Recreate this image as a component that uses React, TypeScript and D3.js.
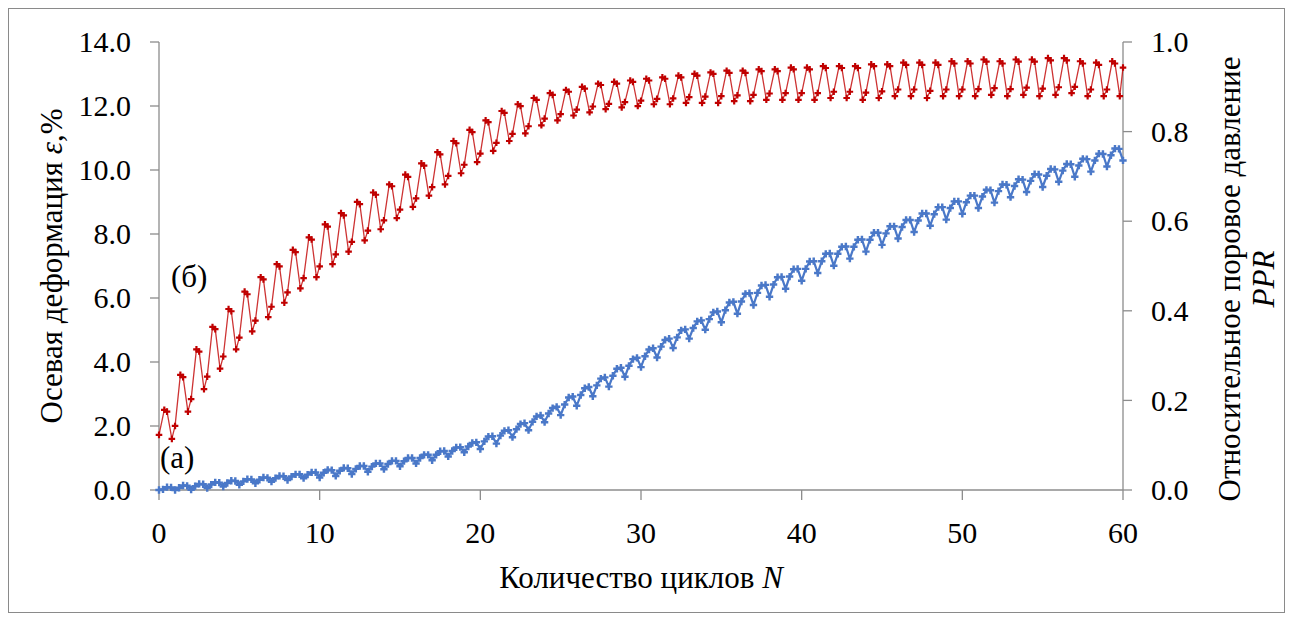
import React from "react";
import * as d3 from "d3";

// Cycle numbers 0..59 (one entry per loading cycle)
// Red series (б): pore pressure ratio PPR (right axis)
const redPhases = [0, 0.33, 0.5, 0.8];
const redStart = [0.123,0.143,0.203,0.253,0.298,0.340,0.378,0.409,0.441,0.473,0.499,0.526,0.554,0.579,0.602,0.626,0.651,0.676,0.701,0.726,0.751,0.775,0.795,0.812,0.829,0.839,0.849,0.856,0.862,0.866,0.869,0.873,0.874,0.877,0.878,0.879,0.881,0.882,0.885,0.886,0.886,0.886,0.889,0.889,0.887,0.890,0.894,0.894,0.891,0.894,0.894,0.895,0.897,0.895,0.898,0.896,0.899,0.900,0.894,0.894];
const redPeak = [0.179,0.257,0.314,0.364,0.404,0.443,0.475,0.504,0.536,0.564,0.593,0.618,0.643,0.664,0.682,0.704,0.729,0.754,0.779,0.804,0.825,0.846,0.861,0.875,0.886,0.893,0.900,0.907,0.911,0.914,0.918,0.921,0.925,0.929,0.932,0.936,0.936,0.939,0.939,0.943,0.943,0.946,0.946,0.946,0.950,0.950,0.954,0.954,0.954,0.957,0.957,0.961,0.957,0.961,0.961,0.964,0.964,0.957,0.954,0.957];
const redFall = [0.175,0.252,0.309,0.359,0.399,0.437,0.470,0.499,0.531,0.559,0.588,0.613,0.638,0.659,0.678,0.699,0.724,0.749,0.774,0.799,0.821,0.842,0.857,0.871,0.882,0.889,0.896,0.904,0.907,0.911,0.914,0.918,0.921,0.925,0.929,0.931,0.931,0.935,0.935,0.939,0.939,0.942,0.942,0.942,0.946,0.946,0.949,0.949,0.949,0.952,0.952,0.956,0.952,0.956,0.956,0.959,0.959,0.952,0.949,0.952];
const redLow = [0.114,0.175,0.225,0.271,0.314,0.354,0.386,0.418,0.450,0.475,0.504,0.532,0.557,0.582,0.607,0.632,0.657,0.682,0.707,0.732,0.757,0.779,0.796,0.814,0.825,0.836,0.843,0.850,0.854,0.857,0.861,0.861,0.864,0.864,0.864,0.868,0.868,0.871,0.871,0.871,0.871,0.875,0.875,0.871,0.875,0.879,0.879,0.875,0.879,0.879,0.879,0.882,0.879,0.882,0.879,0.882,0.886,0.879,0.879,0.879];
const redEnd = 0.943;

// Blue series (а): axial strain, % (left axis)
const bluePhases = [0, 0.25, 0.5, 0.75];
const blueDip = [0.0,0.0,0.01,0.06,0.11,0.16,0.21,0.26,0.31,0.37,0.39,0.44,0.5,0.57,0.65,0.74,0.83,0.93,1.05,1.18,1.28,1.45,1.65,1.87,2.12,2.34,2.63,2.93,3.23,3.54,3.84,4.14,4.44,4.73,5.01,5.24,5.51,5.78,6.04,6.29,6.54,6.78,7.01,7.23,7.45,7.66,7.86,8.06,8.26,8.45,8.63,8.81,8.98,9.15,9.31,9.47,9.63,9.79,9.95,10.11];
const blueRise = [0.02,0.07,0.12,0.17,0.22,0.27,0.32,0.37,0.42,0.48,0.54,0.6,0.66,0.73,0.81,0.9,1.0,1.1,1.22,1.36,1.52,1.7,1.9,2.13,2.39,2.67,2.97,3.27,3.57,3.88,4.18,4.48,4.77,5.06,5.34,5.62,5.89,6.16,6.42,6.67,6.91,7.15,7.38,7.6,7.82,8.02,8.22,8.42,8.62,8.81,8.99,9.17,9.34,9.5,9.66,9.82,9.98,10.14,10.3,10.46];
const bluePeak = [0.09,0.14,0.19,0.24,0.29,0.34,0.39,0.44,0.49,0.55,0.63,0.69,0.75,0.83,0.91,1.0,1.1,1.21,1.33,1.47,1.67,1.85,2.06,2.3,2.56,2.89,3.18,3.48,3.79,4.09,4.39,4.69,4.99,5.27,5.55,5.86,6.13,6.39,6.65,6.9,7.14,7.38,7.6,7.82,8.04,8.24,8.44,8.64,8.84,9.02,9.2,9.38,9.55,9.71,9.87,10.03,10.19,10.35,10.51,10.67];
const blueShoulder = [0.08,0.13,0.18,0.23,0.28,0.33,0.38,0.43,0.49,0.55,0.62,0.68,0.75,0.83,0.91,1.0,1.1,1.22,1.34,1.49,1.68,1.87,2.09,2.33,2.6,2.92,3.22,3.52,3.82,4.13,4.43,4.73,5.02,5.3,5.58,5.88,6.15,6.41,6.66,6.91,7.15,7.39,7.61,7.83,8.04,8.24,8.44,8.64,8.84,9.02,9.2,9.37,9.54,9.7,9.86,10.02,10.18,10.34,10.5,10.66];
const blueEnd = 10.3;

const xTicks = [0, 10, 20, 30, 40, 50, 60];
const leftTicks = [0, 2, 4, 6, 8, 10, 12, 14];
const rightTicks = [0, 0.2, 0.4, 0.6, 0.8, 1.0];

type Pt = { n: number; v: number };

function buildSeries(phases: number[], cols: number[][], end: number): Pt[] {
  const pts: Pt[] = [];
  for (let i = 0; i < cols[0].length; i++) {
    phases.forEach((p, k) => pts.push({ n: i + p, v: cols[k][i] }));
  }
  pts.push({ n: cols[0].length, v: end });
  return pts;
}

const redData = buildSeries(redPhases, [redStart, redPeak, redFall, redLow], redEnd);
const blueData = buildSeries(bluePhases, [blueDip, blueRise, bluePeak, blueShoulder], blueEnd);

const FONT = "Liberation Serif, Times New Roman, DejaVu Serif, serif";

export default function App() {
  const W = 1292, H = 621;
  const x = d3.scaleLinear().domain([0, 60]).range([159, 1123]);
  const yL = d3.scaleLinear().domain([0, 14]).range([490, 42]);
  const yR = d3.scaleLinear().domain([0, 1]).range([490, 42]);

  const redLine = d3.line<Pt>().x(d => x(d.n)).y(d => yR(d.v))(redData) || "";
  const blueLine = d3.line<Pt>().x(d => x(d.n)).y(d => yL(d.v))(blueData) || "";
  const redSym = d3.symbol().type(d3.symbolCross).size(24)() || "";
  const blueSym = d3.symbol().type(d3.symbolCross).size(30)() || "";

  const axisColor = "#8c8c8c";
  const red = "#c00000";
  const blue = "#4a78c8";
  const ts: React.CSSProperties = { fontFamily: FONT, fontSize: 30 };
  const tt: React.CSSProperties = { fontFamily: FONT, fontSize: 31 };

  return (
    <svg width={W} height={H} style={{ position: "absolute", left: 0, top: 0, display: "block", background: "#fff" }}>
      <rect x={8.5} y={8.5} width={1276} height={604} fill="#fff" stroke="#8a8a8a" strokeWidth={1} />

      {/* axes */}
      <line x1={x(0)} x2={x(0)} y1={yL(14)} y2={yL(0)} stroke={axisColor} strokeWidth={1.3} />
      <line x1={x(60)} x2={x(60)} y1={yR(1)} y2={yR(0)} stroke={axisColor} strokeWidth={1.3} />
      <line x1={x(0)} x2={x(60)} y1={yL(0)} y2={yL(0)} stroke={axisColor} strokeWidth={1.3} />

      {leftTicks.map(t => (
        <g key={"l" + t}>
          <line x1={x(0) - 9} x2={x(0)} y1={yL(t)} y2={yL(t)} stroke={axisColor} strokeWidth={1.3} />
          <text x={131} y={yL(t)} dy="0.34em" textAnchor="end" style={ts} fill="#000">{t.toFixed(1)}</text>
        </g>
      ))}
      {rightTicks.map(t => (
        <g key={"r" + t}>
          <line x1={x(60)} x2={x(60) + 9} y1={yR(t)} y2={yR(t)} stroke={axisColor} strokeWidth={1.3} />
          <text x={1151} y={yR(t)} dy="0.34em" textAnchor="start" style={ts} fill="#000">{t.toFixed(1)}</text>
        </g>
      ))}
      {xTicks.map(t => (
        <g key={"x" + t}>
          <line x1={x(t)} x2={x(t)} y1={yL(0)} y2={yL(0) + 10} stroke={axisColor} strokeWidth={1.3} />
          <text x={x(t)} y={543} textAnchor="middle" style={ts} fill="#000">{t}</text>
        </g>
      ))}

      {/* axis titles */}
      <text x={641} y={588} textAnchor="middle" style={tt} fill="#000">
        Количество циклов <tspan fontStyle="italic">N</tspan>
      </text>
      <text transform="translate(62,266) rotate(-90)" textAnchor="middle" style={tt} fill="#000">
        Осевая деформация <tspan fontStyle="italic">ε</tspan>,%
      </text>
      <text transform="translate(1240,279) rotate(-90)" textAnchor="middle" style={tt} fill="#000">
        Относительное поровое давление
      </text>
      <text transform="translate(1274,279) rotate(-90)" textAnchor="middle" style={{ ...tt, fontStyle: "italic" }} fill="#000">
        PPR
      </text>

      {/* series */}
      <path d={blueLine} fill="none" stroke={blue} strokeWidth={2.2} />
      {blueData.map((d, i) => (
        <path key={"b" + i} d={blueSym} transform={`translate(${x(d.n)},${yL(d.v)})`} fill={blue} />
      ))}
      <path d={redLine} fill="none" stroke={red} strokeWidth={1.3} strokeOpacity={0.8} />
      {redData.map((d, i) => (
        <path key={"r" + i} d={redSym} transform={`translate(${x(d.n)},${yR(d.v)})`} fill={red} />
      ))}

      {/* series labels */}
      <text x={160} y={468} style={tt} fill="#000">(а)</text>
      <text x={171} y={287} style={tt} fill="#000">(б)</text>
    </svg>
  );
}
